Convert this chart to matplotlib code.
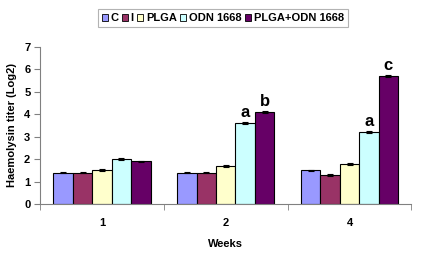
import numpy as np
import matplotlib
matplotlib.use("Agg")
import matplotlib.pyplot as plt
from matplotlib.patches import Patch

weeks = ["1", "2", "4"]
groups = ["C", "I", "PLGA", "ODN 1668", "PLGA+ODN 1668"]
colors = ["#9999FF", "#993366", "#FFFFCC", "#CCFFFF", "#660066"]

titer_c = [1.4, 1.4, 1.5]
titer_i = [1.4, 1.4, 1.3]
titer_plga = [1.5, 1.7, 1.8]
titer_odn = [2.0, 3.6, 3.2]
titer_plga_odn = [1.9, 4.1, 5.7]

err_c = [0.03, 0.03, 0.03]
err_i = [0.03, 0.03, 0.03]
err_plga = [0.04, 0.06, 0.04]
err_odn = [0.04, 0.04, 0.03]
err_plga_odn = [0.03, 0.03, 0.04]

# significance letters: (week index, series index, letter)
letters = [(1, 3, "a"), (1, 4, "b"), (2, 3, "a"), (2, 4, "c")]

series = [titer_c, titer_i, titer_plga, titer_odn, titer_plga_odn]
errors = [err_c, err_i, err_plga, err_odn, err_plga_odn]

plt.rcParams["font.family"] = ["Liberation Sans", "DejaVu Sans"]
plt.rcParams["font.weight"] = "bold"

fig = plt.figure(figsize=(4.22, 2.57), dpi=100)
ax = fig.add_axes([0.095, 0.206, 0.88, 0.612])

x = np.arange(len(weeks))
w = 0.157
for i, (vals, errs) in enumerate(zip(series, errors)):
    pos = x + (i - 2) * w
    ax.bar(pos, vals, width=w, color=colors[i], edgecolor="black", linewidth=0.8)
    ax.errorbar(pos, vals, yerr=errs, fmt="none", ecolor="black",
                elinewidth=0.8, capsize=2, capthick=0.8)

for wk, si, lt in letters:
    ax.text(x[wk] + (si - 2) * w, series[si][wk] + 0.12, lt,
            ha="center", va="bottom", fontsize=12, fontweight="bold")

ax.set_xlim(-0.5, 2.5)
ax.set_ylim(0, 7)
ax.set_yticks(range(8))
ax.set_xticks(x)
ax.set_xticklabels(weeks)
ax.set_xticks([-0.5, 0.5, 1.5, 2.5], minor=True)
ax.tick_params(axis="x", which="major", length=0, pad=10, labelsize=8)
ax.tick_params(axis="x", which="minor", length=4, color="#808080", direction="out")
ax.tick_params(axis="y", length=4, color="#808080", labelsize=8, pad=3)
ax.spines["top"].set_visible(False)
ax.spines["right"].set_visible(False)
ax.spines["left"].set_color("#808080")
ax.spines["bottom"].set_color("#808080")

ax.set_xlabel("Weeks", fontsize=8, fontweight="bold", labelpad=8)
ax.set_ylabel("Haemolysin titer (Log2)", fontsize=8, fontweight="bold", labelpad=5)

handles = [Patch(facecolor=c, edgecolor="black", linewidth=0.6) for c in colors]
leg = fig.legend(handles, groups, loc="upper center", bbox_to_anchor=(0.528, 0.985),
                 ncol=5, fontsize=8, frameon=True, fancybox=False, handlelength=0.55,
                 handleheight=0.55, handletextpad=0.25, columnspacing=0.3,
                 borderpad=0.35)
leg.get_frame().set_edgecolor("#a0a0a0")
leg.get_frame().set_linewidth(0.8)

fig.savefig("out.png", dpi=100, facecolor="white")
